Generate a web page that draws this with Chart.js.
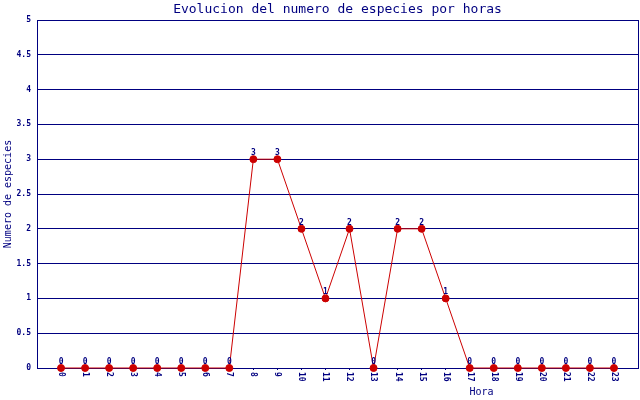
<!DOCTYPE html>
<html><head><meta charset="utf-8">
<script src="https://cdn.jsdelivr.net/npm/chart.js@4/dist/chart.umd.min.js"></script>
<style>html,body{margin:0;padding:0;background:#fff}</style>
</head><body>
<canvas id="c" width="640" height="400"></canvas>
<script>
const hours = [0,1,2,3,4,5,6,7,8,9,10,11,12,13,14,15,16,17,18,19,20,21,22,23];
const species = [0,0,0,0,0,0,0,0,3,3,2,1,2,0,2,2,1,0,0,0,0,0,0,0];
const titleText = 'Evolucion del numero de especies por horas';
const xTitle = 'Hora';
const yTitle = 'Numero de especies';

const NAVY = '#000080';
const RED = '#cc0000';
const MONO = '"DejaVu Sans Mono", "Liberation Mono", monospace';

const valueLabels = {
  id: 'valueLabels',
  afterDatasetsDraw(chart) {
    const ctx = chart.ctx;
    const meta = chart.getDatasetMeta(0);
    ctx.save();
    ctx.font = 'bold 8px ' + MONO;
    ctx.fillStyle = NAVY;
    ctx.textAlign = 'center';
    ctx.textBaseline = 'bottom';
    meta.data.forEach((pt, i) => {
      ctx.fillText(String(species[i]), pt.x, pt.y - 2);
    });
    ctx.restore();
  }
};
const rightFrame = {
  id: 'rightFrame',
  afterDraw(chart) {
    const a = chart.chartArea, ctx = chart.ctx;
    ctx.save();
    ctx.strokeStyle = NAVY; ctx.lineWidth = 1;
    ctx.beginPath();
    const x = Math.round(a.right) + 0.5;
    ctx.moveTo(x, a.top); ctx.lineTo(x, a.bottom);
    ctx.stroke();
    ctx.restore();
  }
};

new Chart(document.getElementById('c'), {
  type: 'line',
  data: {
    datasets: [{
      data: hours.map((h, i) => ({x: h, y: species[i]})),
      borderColor: RED,
      backgroundColor: RED,
      borderWidth: 1,
      pointRadius: 3.5,
      pointBackgroundColor: RED,
      pointBorderColor: RED,
      pointBorderWidth: 1,
      tension: 0,
      clip: false
    }]
  },
  options: {
    responsive: false,
    animation: false,
    layout: {autoPadding: false, padding: {left: 0, right: 2, top: 0, bottom: 0}},
    plugins: {
      legend: {display: false},
      tooltip: {enabled: false},
      title: {
        display: true, text: titleText, color: NAVY, fullSize: false,
        font: {family: MONO, size: 13, weight: 'normal'},
        padding: {top: 2, bottom: 2.4}
      }
    },
    scales: {
      x: {
        type: 'linear', min: -1, max: 24,
        afterFit: (s) => {
          s.height = 32;
          s.paddingLeft = 0; s.paddingRight = 0;
          s._getXAxisLabelAlignment = () => 'left';
        },
        ticks: {
          stepSize: 1, autoSkip: false, minRotation: -90, maxRotation: -90,
          color: NAVY, font: {family: MONO, size: 8, weight: 'bold'}, padding: 2,
          callback: (v) => (v >= 0 && v <= 23 ? String(v) : '')
        },
        grid: {
          drawOnChartArea: false, drawTicks: true, tickLength: 2,
          color: (c) => (c.tick && c.tick.value >= 0 && c.tick.value <= 23 ? NAVY : 'rgba(0,0,0,0)')
        },
        border: {display: true, color: NAVY},
        title: {
          display: true, text: xTitle + ' '.repeat(24), align: 'end', color: NAVY,
          font: {family: MONO, size: 10}, padding: {top: 0, bottom: 2}
        }
      },
      y: {
        min: 0, max: 5,
        afterFit: (s) => { s.width = 37; },
        ticks: {
          stepSize: 0.5, color: NAVY, padding: 6,
          font: {family: MONO, size: 8, weight: 'bold'},
          callback: (v) => String(v)
        },
        grid: {color: NAVY, lineWidth: 1, drawTicks: false},
        border: {display: true, color: NAVY},
        title: {
          display: true, text: yTitle, color: NAVY,
          font: {family: MONO, size: 10}, padding: {top: 2, bottom: 0}
        }
      }
    }
  },
  plugins: [valueLabels, rightFrame]
});
</script>
</body></html>
